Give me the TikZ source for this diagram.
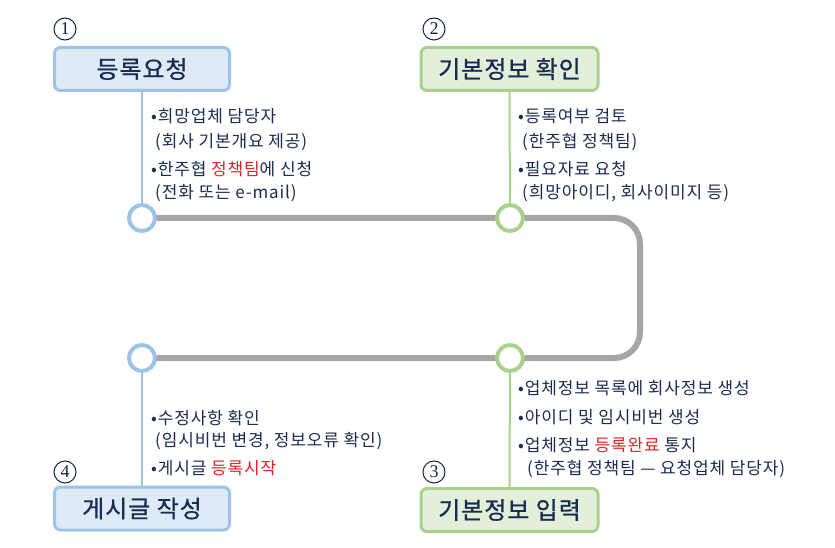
\documentclass[tikz,border=0pt]{standalone}
\usepackage{fontspec}
\setmainfont{Noto Sans CJK KR}
\newfontfamily\bodyfont[LetterSpace=5]{Noto Sans CJK KR}
\newfontfamily\titlefont[LetterSpace=4,FakeBold=0.8]{Noto Sans CJK KR}
\newfontfamily\numfont{Liberation Serif}
\definecolor{navy}{HTML}{1C2B52}
\definecolor{bluebd}{HTML}{9DC3E6}
\definecolor{bluefl}{HTML}{DEEBF7}
\definecolor{greenbd}{HTML}{A9D18E}
\definecolor{greenfl}{HTML}{E2F0D9}
\definecolor{track}{HTML}{A6A6A6}
\definecolor{hl}{HTML}{E3202A}
\tikzset{
  titlebox/.style={draw, line width=3pt, rounded corners=6pt, minimum height=43pt, inner sep=0pt,
    text=navy, font=\titlefont\fontsize{24}{28}\selectfont},
  bluebox/.style={titlebox, draw=bluebd, fill=bluefl, minimum width=175pt},
  greenbox/.style={titlebox, draw=greenbd, fill=greenfl, minimum width=177pt},
  stop/.style={circle, fill=white, line width=4pt, minimum size=26pt, inner sep=0pt},
  bluestop/.style={stop, draw=bluebd},
  greenstop/.style={stop, draw=greenbd},
  stem/.style={line width=2pt},
  numbadge/.style={circle, draw=navy!80!black, line width=1pt, minimum size=22pt, inner sep=0pt,
    font=\numfont\fontsize{18}{18}\selectfont, text=navy!80!black},
  txt/.style={anchor=base west, inner sep=0pt, text=navy, font=\bodyfont\fontsize{17}{20}\selectfont}
}
\begin{document}
\begin{tikzpicture}[x=1pt,y=-1pt]
\useasboundingbox (0,0) rectangle (835,548);

% boxes
\node[bluebox]  (b1) at (142,69)    {등록요청};
\node[greenbox] (b2) at (509.5,69)  {기본정보 확인};
\node[greenbox] (b3) at (509.5,510) {기본정보 입력};
\node[bluebox]  (b4) at (142,508.5) {게시글 작성};

% number badges
\node[numbadge] (n1) at (65,29)  {1};
\node[numbadge] (n2) at (434,29) {2};
\node[numbadge] (n3) at (434,472) {3};
\node[numbadge] (n4) at (65,472) {4};

% stop positions
\coordinate (p1) at (142,218);
\coordinate (p2) at (510,218);
\coordinate (p3) at (510,358);
\coordinate (p4) at (142,358);
\coordinate (tr) at (640,218);
\coordinate (br) at (640,358);

% track
\draw[track, line width=6pt, rounded corners=26pt] (p1) -- (p2) -- (tr) -- (br) -- (p3) -- (p4);

% stems
\draw[stem, bluebd]  (b1.south) -- (p1);
\draw[stem, greenbd] (b2.south) -- (p2);
\draw[stem, greenbd] (b3.north) -- (p3);
\draw[stem, bluebd]  (b4.north) -- (p4);

\node[bluestop]  (s1) at (p1) {};
\node[greenstop] (s2) at (p2) {};
\node[greenstop] (s3) at (p3) {};
\node[bluestop]  (s4) at (p4) {};

% texts column 1
\node[txt] (t11) at (151,123) {•희망업체 담당자};
\node[txt] (t12) at (155,148) {(회사 기본개요 제공)};
\node[txt] (t13) at (151,176) {•한주협 \textcolor{hl}{정책팀}에 신청};
\node[txt] (t14) at (155,199) {(전화 또는 e-mail)};

% texts column 2
\node[txt] (t21) at (518,123) {•등록여부 검토};
\node[txt] (t22) at (522,148) {(한주협 정책팀)};
\node[txt] (t23) at (518,176) {•필요자료 요청};
\node[txt] (t24) at (522,199) {(희망아이디, 회사이미지 등)};

% texts column 3
\node[txt] (t31) at (518,394) {•업체정보 목록에 회사정보 생성};
\node[txt] (t32) at (518,423) {•아이디 및 임시비번 생성};
\node[txt] (t33) at (518,451) {•업체정보 \textcolor{hl}{등록완료} 통지};
\node[txt] (t34) at (527,474) {(한주협 정책팀 — 요청업체 담당자)};

% texts column 4
\node[txt] (t41) at (151,424) {•수정사항 확인};
\node[txt] (t42) at (155,446) {(임시비번 변경, 정보오류 확인)};
\node[txt] (t43) at (151,474) {•게시글 \textcolor{hl}{등록시작}};
\end{tikzpicture}
\end{document}
